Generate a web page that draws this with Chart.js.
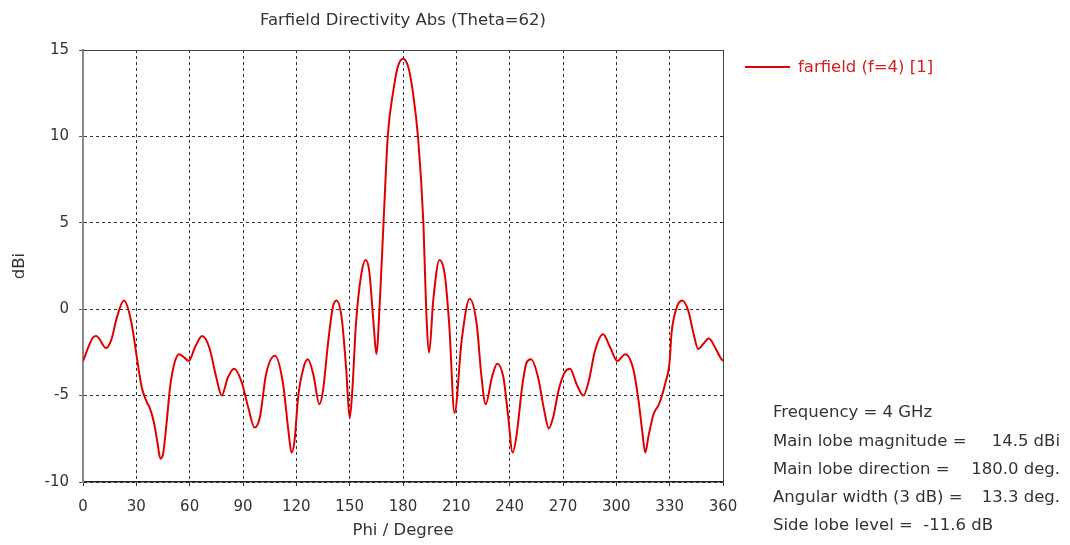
<!DOCTYPE html>
<html>
<head>
<meta charset="utf-8">
<title>Farfield Directivity Abs (Theta=62)</title>
<script src="https://cdn.jsdelivr.net/npm/chart.js@4/dist/chart.umd.min.js"></script>
<style>
    html, body { margin: 0; padding: 0; background: #ffffff; }
    #wrap { position: relative; width: 1070px; height: 545px; }
</style>
</head>
<body>
<div id="wrap"><canvas id="farfield" width="1070" height="545"></canvas></div>
<script>
// 数据
const phi = [
    0, 5.5, 7.5, 13, 16, 19, 23, 27, 30, 33, 36, 37.5, 40, 42, 43.5, 45, 47, 49, 51.5, 54,
    57, 59.5, 63, 67, 71, 75, 78, 81.5, 85, 89, 93, 96.5, 99.5, 103, 108, 112.5, 115.5, 117.3, 119, 121,
    124, 126.5, 129.5, 133, 135, 138, 140.5, 142.5, 145.5, 148, 150, 151.5, 153.5, 156.5, 159, 161, 163.5, 165, 167, 169,
    171.5, 174.5, 177, 180, 183, 185.5, 188.5, 191.5, 193, 194.7, 197, 200.5, 203.5, 206, 209, 213, 217.5, 221.5, 224, 226.5,
    230, 233, 236.5, 239, 241.7, 244, 247, 249.5, 252, 256, 259.5, 262, 264.5, 267.5, 271, 274, 277.5, 281.5, 284.5, 288,
    292.5, 296.5, 300.5, 305, 309.5, 312.5, 314.5, 316.3, 318, 321, 324, 327.5, 330, 331, 334, 337, 340.5, 343.5, 346, 349,
    352, 355.5, 358.5, 360
];
const dbi = [
    -3.0, -1.65, -1.55, -2.25, -1.75, -0.5, 0.5, -0.65, -2.6, -4.5, -5.4, -5.7, -6.6, -7.8, -8.65, -8.4, -6.6, -4.5, -3.1, -2.6,
    -2.8, -3.0, -2.2, -1.55, -2.2, -3.95, -5.0, -3.95, -3.45, -4.15, -5.7, -6.85, -6.25, -3.75, -2.7, -4.3, -7.0, -8.3, -7.6, -5.1,
    -3.4, -2.9, -3.75, -5.5, -4.7, -1.8, 0.1, 0.5, -0.5, -3.4, -6.3, -4.7, -0.9, 2.0, 2.85, 2.2, -0.9, -2.6, 0.5, 4.9,
    10.1, 12.6, 14.0, 14.5, 14.0, 12.6, 9.9, 4.9, 0.1, -2.5, 0.5, 2.85, 2.0, -0.9, -6.0, -1.8, 0.6, -0.9, -3.75, -5.5,
    -3.95, -3.15, -3.95, -6.05, -8.3, -7.2, -4.5, -3.1, -2.9, -3.95, -5.9, -6.9, -6.25, -4.7, -3.65, -3.45, -4.3, -5.0, -4.15, -2.4,
    -1.45, -2.2, -3.0, -2.6, -3.45, -5.3, -7.0, -8.3, -7.4, -6.05, -5.5, -4.3, -3.0, -1.45, 0.1, 0.5, -0.1, -1.45, -2.3, -2.0,
    -1.7, -2.2, -2.8, -3.0
];

// 刻度
const xTicks = [0, 30, 60, 90, 120, 150, 180, 210, 240, 270, 300, 330, 360];
const yTicks = [-10, -5, 0, 5, 10, 15];

// 图例和注释
const seriesName = 'farfield (f=4) [1]';
const infoLabels = ['Frequency = 4 GHz', 'Main lobe magnitude =', 'Main lobe direction =', 'Angular width (3 dB) =', 'Side lobe level =  -11.6 dB'];
const infoValues = ['', '14.5 dBi', '180.0 deg.', '13.3 deg.', ''];

const FONT = 'DejaVu Sans';
const TEXT_SIZE = 16.5;
const TICK_SIZE = 15;
const RED = 'rgb(225, 0, 0)';

// 画外框、图例、注释
const extrasPlugin = {
    id: 'extras',
    afterDraw(chart) {
        const ctx = chart.ctx;
        const a = chart.chartArea;
        ctx.save();
        // 外框
        ctx.strokeStyle = '#444';
        ctx.lineWidth = 1;
        ctx.beginPath();
        ctx.moveTo(a.left, a.top + 0.5);
        ctx.lineTo(a.right + 0.5, a.top + 0.5);
        ctx.lineTo(a.right + 0.5, a.bottom);
        ctx.stroke();

        // 图例
        ctx.strokeStyle = RED;
        ctx.lineWidth = 2;
        ctx.beginPath();
        ctx.moveTo(745, 67);
        ctx.lineTo(790, 67);
        ctx.stroke();
        ctx.fillStyle = 'rgb(215, 30, 30)';
        ctx.font = TEXT_SIZE + 'px "' + FONT + '"';
        ctx.textBaseline = 'middle';
        ctx.textAlign = 'left';
        ctx.fillText(seriesName, 798, 68);

        // 注释
        ctx.fillStyle = '#333';
        infoLabels.forEach((label, i) => {
            const y = 413 + i * 28.3;
            ctx.textAlign = 'left';
            ctx.fillText(label, 773, y);
            if (infoValues[i]) {
                ctx.textAlign = 'right';
                ctx.fillText(infoValues[i], 1060, y);
            }
        });
        ctx.restore();
    }
};

const ctx = document.getElementById('farfield').getContext('2d');
const chart = new Chart(ctx, {
    type: 'line',
    data: {
        datasets: [{
            label: seriesName,
            data: phi.map((p, i) => ({ x: p, y: dbi[i] })),
            borderColor: RED,
            backgroundColor: RED,
            borderWidth: 2,
            pointRadius: 0,
            fill: false,
            cubicInterpolationMode: 'monotone'
        }]
    },
    options: {
        responsive: false,
        animation: false,
        layout: {
            padding: { left: 0, right: 347, top: 0, bottom: 0 }
        },
        plugins: {
            legend: { display: false },
            tooltip: { enabled: false },
            title: {
                display: true,
                text: 'Farfield Directivity Abs (Theta=62)',
                color: '#333',
                fullSize: false,
                font: { family: FONT, size: TEXT_SIZE, weight: 'normal', lineHeight: 1.2 },
                padding: { top: 10.6, bottom: 19.6 }
            }
        },
        scales: {
            x: {
                type: 'linear',
                min: 0,
                max: 360,
                afterBuildTicks: scale => { scale.ticks = xTicks.map(v => ({ value: v })); },
                afterFit: scale => { scale.height = 63; },
                ticks: {
                    color: '#333',
                    padding: 12,
                    maxRotation: 0,
                    font: { family: FONT, size: TICK_SIZE }
                },
                grid: {
                    color: '#333',
                    lineWidth: 1,
                    tickLength: 4,
                    tickColor: '#333'
                },
                border: { display: true, color: '#222', width: 1.5, dash: [3, 3] },
                title: {
                    display: true,
                    text: 'Phi / Degree',
                    color: '#333',
                    font: { family: FONT, size: TEXT_SIZE, lineHeight: 1.2 },
                    padding: { top: 0, bottom: 4.1 }
                }
            },
            y: {
                min: -10,
                max: 15,
                afterBuildTicks: scale => { scale.ticks = yTicks.map(v => ({ value: v })); },
                afterFit: scale => { scale.width = 83; },
                ticks: {
                    color: '#333',
                    padding: 10,
                    font: { family: FONT, size: TICK_SIZE }
                },
                grid: {
                    color: '#333',
                    lineWidth: 1,
                    tickLength: 4,
                    tickColor: '#555'
                },
                border: { display: true, color: '#888', width: 2, dash: [3, 3] },
                title: {
                    display: true,
                    text: 'dBi',
                    color: '#333',
                    font: { family: FONT, size: TEXT_SIZE, lineHeight: 1.2 },
                    padding: { top: 10.1, bottom: 0 }
                }
            }
        }
    },
    plugins: [extrasPlugin]
});
</script>
</body>
</html>
